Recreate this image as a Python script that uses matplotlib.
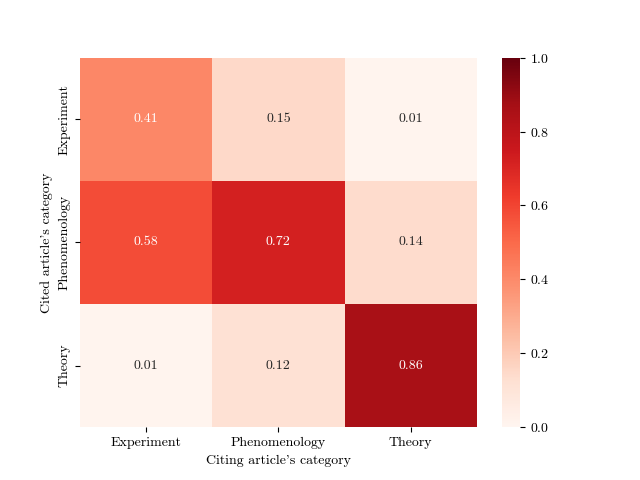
import matplotlib
matplotlib.use("Agg")
import matplotlib.pyplot as plt
import seaborn as sns
import numpy as np

plt.rcParams['font.family'] = ['cmr10', 'DejaVu Serif']
plt.rcParams['mathtext.fontset'] = 'cm'
plt.rcParams['axes.formatter.use_mathtext'] = True

categories = ["Experiment", "Phenomenology", "Theory"]
values = [
    [0.41, 0.15, 0.01],
    [0.58, 0.72, 0.14],
    [0.01, 0.12, 0.86],
]

fig, ax = plt.subplots(figsize=(6.4, 4.8), dpi=100)
sns.heatmap(np.array(values), annot=True, fmt=".2f", cmap="Reds", vmin=0, vmax=1,
            xticklabels=categories, yticklabels=categories, ax=ax)
ax.set_xlabel("Citing article's category")
ax.set_ylabel("Cited article's category")
ax.set_yticklabels(categories, rotation=90, va="center")
fig.savefig("out.png", dpi=100)
